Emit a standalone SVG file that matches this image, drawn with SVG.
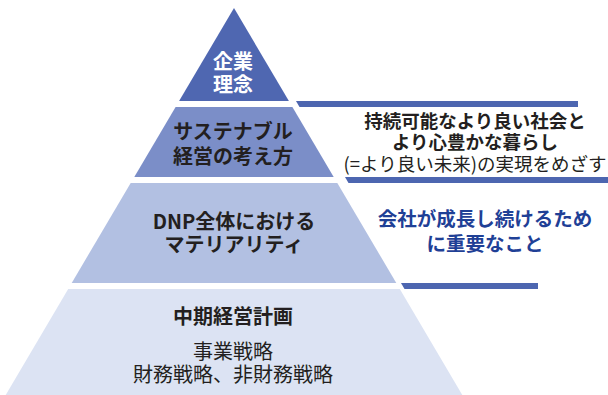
<svg xmlns="http://www.w3.org/2000/svg" width="608" height="395" viewBox="0 0 608 395">
<style>
.lbl{font-family:"Noto Sans CJK JP","Noto Sans",sans-serif;font-weight:bold;font-size:20px;text-anchor:middle;fill:#231f20}
.reg{font-family:"Noto Sans CJK JP","Noto Sans",sans-serif;font-weight:normal;font-size:20px;text-anchor:middle;fill:#231f20}
.rt{font-family:"Noto Sans CJK JP","Noto Sans",sans-serif;font-weight:bold;font-size:18.5px;text-anchor:middle;fill:#231f20}
.rtr{font-family:"Noto Sans CJK JP","Noto Sans",sans-serif;font-weight:normal;font-size:18.5px;text-anchor:middle;fill:#231f20}
.bt{font-family:"Noto Sans CJK JP","Noto Sans",sans-serif;font-weight:bold;font-size:19.5px;text-anchor:middle;fill:#1f4096}
.bar{fill:#4d66b0}
</style>
<rect width="608" height="395" fill="#ffffff"/>
<g id="tier1">
<polygon points="234,8 288.9,101 179.1,101" fill="#4f67b1"/>
<text class="lbl" x="233" y="68.6" fill="#ffffff" style="fill:#ffffff">企業</text>
<text class="lbl" x="233" y="91.6" style="fill:#ffffff">理念</text>
</g>
<g id="tier2">
<polygon points="175.6,107 292.4,107 333.7,177 134.3,177" fill="#7b8ec8"/>
<text class="lbl" x="233" y="138.6">サステナブル</text>
<text class="lbl" x="233" y="163.6">経営の考え方</text>
</g>
<g id="tier3">
<polygon points="130.7,183 337.3,183 396.3,283 71.7,283" fill="#b2c0e2"/>
<text class="lbl" x="234" y="228.6">DNP全体における</text>
<text class="lbl" x="234" y="251.6">マテリアリティ</text>
</g>
<g id="tier4">
<polygon points="68.2,289 399.8,289 462.3,395 5.7,395" fill="#dce3f3"/>
<text class="lbl" x="233" y="323.6">中期経営計画</text>
<text class="reg" x="233" y="358.6">事業戦略</text>
<text class="reg" x="233" y="381.6">財務戦略、非財務戦略</text>
</g>
<g id="connectors">
<polygon class="bar" points="296,101 578,101 578,107 299.5,107"/>
<polygon class="bar" points="345,177 608,177 608,183 348.5,183"/>
<polygon class="bar" points="401,283 538,283 538,289 404.5,289"/>
</g>
<g id="note1">
<text class="rt" x="475" y="128">持続可能なより良い社会と</text>
<text class="rt" x="475" y="149">より心豊かな暮らし</text>
<text class="rtr" x="475" y="171">(=より良い未来)の実現をめざす</text>
</g>
<g id="note2">
<text class="bt" x="485" y="226.4">会社が成長し続けるため</text>
<text class="bt" x="485" y="251.4">に重要なこと</text>
</g>
</svg>
